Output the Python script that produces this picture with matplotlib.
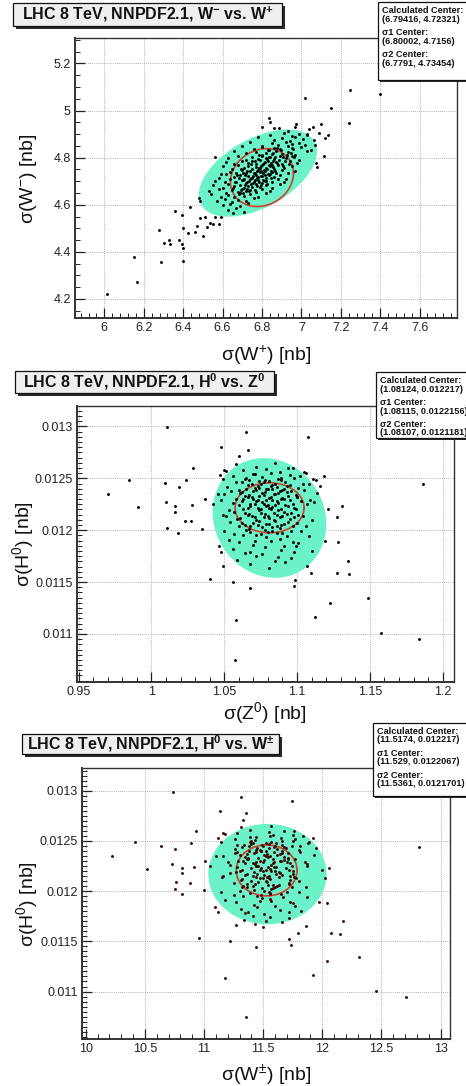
import numpy as np
import matplotlib
matplotlib.use("Agg")
from matplotlib import pyplot as plt
from matplotlib.patches import Rectangle
from matplotlib.ticker import MultipleLocator, FuncFormatter

plt.rcParams['font.family'] = ['Liberation Sans', 'DejaVu Sans']
plt.rcParams['mathtext.fontset'] = 'custom'
plt.rcParams['mathtext.rm'] = 'Liberation Sans'
plt.rcParams['mathtext.it'] = 'Liberation Sans:italic'
plt.rcParams['mathtext.bf'] = 'Liberation Sans:bold'

# ---------------------------------------------------------------------------
# Replica cross sections, LHC 8 TeV, NNPDF2.1
# ---------------------------------------------------------------------------
# (sigma(W+), sigma(W-)) per replica, dense core of the distribution
w_core = [
    (6.86, 4.924), (6.93, 4.913), (6.97, 4.929),
    (6.84, 4.898), (6.91, 4.906), (6.95, 4.891), (6.99, 4.901), (7.03, 4.895),
    (6.78, 4.888), (6.86, 4.877), (6.90, 4.884), (6.94, 4.873), (6.97, 4.889), (7.01, 4.878),
    (6.74, 4.866), (6.80, 4.851), (6.85, 4.861), (6.88, 4.855), (6.92, 4.868), (6.95, 4.857),
    (6.99, 4.864), (7.02, 4.853),
    (6.70, 4.849), (6.76, 4.838), (6.80, 4.846), (6.83, 4.831), (6.86, 4.841), (6.89, 4.835),
    (6.93, 4.848), (6.96, 4.837), (7.00, 4.844), (7.05, 4.833),
    (6.66, 4.829), (6.72, 4.818), (6.77, 4.826), (6.80, 4.811), (6.82, 4.821), (6.85, 4.815),
    (6.87, 4.828), (6.90, 4.817), (6.93, 4.824), (6.97, 4.813), (7.03, 4.829),
    (6.63, 4.798), (6.68, 4.806), (6.72, 4.791), (6.75, 4.801), (6.78, 4.795), (6.80, 4.808),
    (6.82, 4.797), (6.84, 4.804), (6.86, 4.793), (6.89, 4.809), (6.92, 4.798), (6.95, 4.806),
    (6.99, 4.791),
    (6.62, 4.781), (6.66, 4.775), (6.70, 4.788), (6.73, 4.777), (6.75, 4.784), (6.77, 4.773),
    (6.79, 4.789), (6.81, 4.778), (6.83, 4.786), (6.85, 4.771), (6.87, 4.781), (6.90, 4.775),
    (6.94, 4.788), (6.98, 4.777),
    (6.60, 4.764), (6.65, 4.753), (6.68, 4.769), (6.71, 4.758), (6.73, 4.766), (6.75, 4.751),
    (6.77, 4.761), (6.79, 4.755), (6.80, 4.768), (6.82, 4.757), (6.84, 4.764), (6.86, 4.753),
    (6.88, 4.769), (6.91, 4.758), (6.95, 4.766),
    (6.59, 4.731), (6.64, 4.741), (6.67, 4.735), (6.70, 4.748), (6.72, 4.737), (6.74, 4.744),
    (6.76, 4.733), (6.78, 4.749), (6.79, 4.738), (6.81, 4.746), (6.83, 4.731), (6.85, 4.741),
    (6.87, 4.735), (6.90, 4.748), (6.93, 4.737), (6.97, 4.744),
    (6.58, 4.713), (6.62, 4.729), (6.66, 4.718), (6.69, 4.726), (6.71, 4.711), (6.73, 4.721),
    (6.75, 4.715), (6.77, 4.728), (6.78, 4.717), (6.80, 4.724), (6.82, 4.713), (6.84, 4.729),
    (6.86, 4.718), (6.89, 4.726), (6.92, 4.711),
    (6.56, 4.701), (6.61, 4.695), (6.64, 4.708), (6.67, 4.697), (6.70, 4.704), (6.72, 4.693),
    (6.74, 4.709), (6.76, 4.698), (6.78, 4.706), (6.80, 4.691), (6.82, 4.701), (6.85, 4.695),
    (6.88, 4.708), (6.91, 4.697),
    (6.55, 4.684), (6.60, 4.673), (6.63, 4.689), (6.66, 4.678), (6.69, 4.686), (6.71, 4.671),
    (6.73, 4.681), (6.75, 4.675), (6.77, 4.688), (6.79, 4.677), (6.82, 4.684), (6.85, 4.673),
    (6.89, 4.689),
    (6.53, 4.658), (6.58, 4.666), (6.62, 4.651), (6.65, 4.661), (6.68, 4.655), (6.70, 4.668),
    (6.72, 4.657), (6.74, 4.664), (6.77, 4.653), (6.80, 4.669), (6.84, 4.658),
    (6.54, 4.646), (6.59, 4.631), (6.63, 4.641), (6.66, 4.635), (6.69, 4.648), (6.71, 4.637),
    (6.74, 4.644), (6.78, 4.633), (6.82, 4.649),
    (6.57, 4.618), (6.61, 4.626), (6.65, 4.611), (6.68, 4.621), (6.72, 4.615), (6.76, 4.628),
    (6.60, 4.597), (6.64, 4.604), (6.69, 4.593), (6.73, 4.609),
    (6.63, 4.578), (6.67, 4.586), (6.71, 4.571),
    # innermost, most crowded region
    (6.695, 4.662), (6.715, 4.683), (6.735, 4.702), (6.755, 4.722), (6.775, 4.742),
    (6.795, 4.763), (6.815, 4.782), (6.835, 4.801), (6.855, 4.822), (6.875, 4.842),
    (6.705, 4.705), (6.725, 4.745), (6.745, 4.688), (6.765, 4.707), (6.785, 4.696),
    (6.805, 4.735), (6.825, 4.752), (6.845, 4.776), (6.865, 4.745), (6.885, 4.792),
    (6.685, 4.712), (6.705, 4.733), (6.725, 4.668), (6.745, 4.772), (6.765, 4.788),
    (6.785, 4.812), (6.805, 4.705), (6.825, 4.688), (6.845, 4.712), (6.865, 4.803),
    (6.695, 4.752), (6.715, 4.725), (6.735, 4.657), (6.755, 4.692), (6.775, 4.678),
    (6.795, 4.722), (6.815, 4.742), (6.835, 4.725), (6.855, 4.762), (6.875, 4.778),
    (6.905, 4.805), (6.915, 4.785), (6.925, 4.812), (6.895, 4.832), (6.905, 4.765),
    (6.665, 4.695), (6.675, 4.728), (6.655, 4.672), (6.685, 4.645), (6.705, 4.652),
    (6.765, 4.735), (6.775, 4.715), (6.785, 4.755), (6.795, 4.745), (6.805, 4.772),
    (6.815, 4.726), (6.825, 4.795), (6.835, 4.768), (6.845, 4.742), (6.855, 4.787),
    (6.765, 4.662), (6.745, 4.712), (6.725, 4.695), (6.795, 4.682), (6.815, 4.702),
    (6.835, 4.832), (6.945, 4.822), (6.955, 4.842), (6.935, 4.772), (6.965, 4.802),
]

# (sigma(W+), sigma(W-)) for the replicas out in the tails
w_tail = [
    (6.012, 4.222), (6.167, 4.273), (6.152, 4.377), (6.287, 4.358), (6.277, 4.494),
    (6.303, 4.438), (6.328, 4.452), (6.335, 4.435), (6.380, 4.449), (6.392, 4.435),
    (6.397, 4.417), (6.397, 4.360), (6.397, 4.500), (6.395, 4.555), (6.358, 4.572),
    (6.426, 4.480), (6.460, 4.483), (6.436, 4.590), (6.485, 4.544), (6.471, 4.511),
    (6.499, 4.469), (6.482, 4.627), (6.487, 4.618), (6.510, 4.548), (6.519, 4.506),
    (6.536, 4.523), (6.550, 4.520), (6.561, 4.550), (6.580, 4.520), (6.590, 4.548),
    (6.563, 4.802), (6.654, 4.565),
    (6.836, 4.967), (7.017, 5.054), (7.152, 5.011), (7.245, 5.086), (7.398, 5.069),
    (7.558, 5.171), (7.240, 4.948), (7.102, 4.945), (7.059, 4.931), (7.040, 4.920),
    (7.135, 4.896), (7.119, 4.882), (7.063, 4.875), (7.068, 4.854), (7.114, 4.807),
    (7.076, 4.776), (7.078, 4.760), (6.840, 4.952), (6.887, 4.924), (6.798, 4.931),
    (6.975, 4.942), (7.090, 4.905), (7.030, 4.900),
]

# (sigma(Z0), sigma(W+-), sigma(H0)) per replica, dense core
zh_core = [
    (1.058, 11.31, 0.012640), (1.072, 11.39, 0.012610), (1.085, 11.57, 0.012650), (1.097, 11.76, 0.012600),
    (1.051, 11.18, 0.012570), (1.063, 11.28, 0.012580), (1.071, 11.44, 0.012540), (1.079, 11.55, 0.012590),
    (1.088, 11.58, 0.012560), (1.094, 11.68, 0.012600), (1.106, 11.84, 0.012550),
    (1.047, 11.12, 0.012530), (1.056, 11.26, 0.012520), (1.064, 11.39, 0.012490), (1.070, 11.39, 0.012540),
    (1.076, 11.43, 0.012510), (1.082, 11.56, 0.012550), (1.089, 11.66, 0.012500), (1.095, 11.65, 0.012530),
    (1.102, 11.77, 0.012520), (1.111, 11.89, 0.012490),
    (1.049, 11.14, 0.012490), (1.058, 11.28, 0.012460), (1.065, 11.40, 0.012500), (1.069, 11.38, 0.012450),
    (1.074, 11.40, 0.012470), (1.078, 11.52, 0.012480), (1.083, 11.59, 0.012440), (1.087, 11.57, 0.012490),
    (1.092, 11.66, 0.012460), (1.098, 11.75, 0.012500), (1.104, 11.74, 0.012450), (1.113, 11.88, 0.012480),
    (1.052, 11.26, 0.012420), (1.060, 11.28, 0.012390), (1.066, 11.32, 0.012440), (1.071, 11.44, 0.012410),
    (1.075, 11.50, 0.012450), (1.079, 11.48, 0.012400), (1.082, 11.55, 0.012430), (1.086, 11.62, 0.012420),
    (1.090, 11.59, 0.012390), (1.095, 11.68, 0.012440), (1.101, 11.80, 0.012410), (1.108, 11.81, 0.012450),
    (1.046, 11.10, 0.012350), (1.055, 11.26, 0.012380), (1.062, 11.36, 0.012370), (1.067, 11.35, 0.012340),
    (1.072, 11.44, 0.012390), (1.076, 11.51, 0.012360), (1.080, 11.48, 0.012400), (1.084, 11.56, 0.012350),
    (1.088, 11.66, 0.012380), (1.093, 11.64, 0.012370), (1.099, 11.68, 0.012340), (1.105, 11.81, 0.012390),
    (1.114, 11.93, 0.012360),
    (1.050, 11.16, 0.012350), (1.058, 11.29, 0.012300), (1.064, 11.37, 0.012330), (1.069, 11.36, 0.012320),
    (1.073, 11.44, 0.012290), (1.077, 11.54, 0.012340), (1.081, 11.51, 0.012310), (1.085, 11.52, 0.012350),
    (1.089, 11.64, 0.012300), (1.094, 11.71, 0.012330), (1.100, 11.71, 0.012320), (1.109, 11.85, 0.012290),
    (1.048, 11.20, 0.012290), (1.056, 11.22, 0.012260), (1.063, 11.33, 0.012300), (1.068, 11.44, 0.012250),
    (1.072, 11.41, 0.012280), (1.076, 11.43, 0.012270), (1.080, 11.54, 0.012240), (1.083, 11.59, 0.012290),
    (1.087, 11.57, 0.012260), (1.091, 11.65, 0.012300), (1.097, 11.74, 0.012250), (1.103, 11.73, 0.012280),
    (1.112, 11.87, 0.012270),
    (1.053, 11.27, 0.012190), (1.060, 11.28, 0.012240), (1.066, 11.32, 0.012210), (1.071, 11.44, 0.012250),
    (1.075, 11.50, 0.012200), (1.079, 11.48, 0.012230), (1.083, 11.56, 0.012220), (1.087, 11.63, 0.012190),
    (1.092, 11.61, 0.012240), (1.098, 11.72, 0.012210), (1.107, 11.87, 0.012250),
    (1.049, 11.16, 0.012150), (1.057, 11.22, 0.012180), (1.064, 11.36, 0.012170), (1.069, 11.44, 0.012140),
    (1.074, 11.42, 0.012190), (1.078, 11.51, 0.012160), (1.082, 11.57, 0.012200), (1.086, 11.55, 0.012150),
    (1.091, 11.64, 0.012180), (1.096, 11.75, 0.012170), (1.104, 11.76, 0.012140),
    (1.051, 11.15, 0.012140), (1.059, 11.31, 0.012110), (1.066, 11.41, 0.012150), (1.072, 11.40, 0.012100),
    (1.077, 11.50, 0.012130), (1.081, 11.56, 0.012120), (1.085, 11.53, 0.012090), (1.090, 11.63, 0.012140),
    (1.095, 11.73, 0.012110), (1.101, 11.73, 0.012150), (1.110, 11.80, 0.012100),
    (1.054, 11.25, 0.012080), (1.062, 11.36, 0.012070), (1.068, 11.36, 0.012040), (1.074, 11.46, 0.012090),
    (1.079, 11.54, 0.012060), (1.084, 11.52, 0.012100), (1.089, 11.62, 0.012050), (1.094, 11.72, 0.012080),
    (1.100, 11.72, 0.012070),
    (1.050, 11.14, 0.011990), (1.060, 11.32, 0.012040), (1.067, 11.42, 0.012010), (1.073, 11.41, 0.012050),
    (1.078, 11.51, 0.012000), (1.083, 11.58, 0.012030), (1.088, 11.57, 0.012020), (1.096, 11.70, 0.011990),
    (1.106, 11.86, 0.012040),
    (1.057, 11.25, 0.011960), (1.065, 11.30, 0.012000), (1.072, 11.45, 0.011950), (1.080, 11.56, 0.011980),
    (1.086, 11.56, 0.011970), (1.093, 11.67, 0.011940), (1.103, 11.80, 0.011990),
    (1.053, 11.18, 0.011910), (1.063, 11.33, 0.011950), (1.071, 11.47, 0.011900), (1.079, 11.49, 0.011930),
    (1.088, 11.56, 0.011920), (1.097, 11.73, 0.011890), (1.108, 11.87, 0.011940),
    (1.060, 11.27, 0.011890), (1.070, 11.42, 0.011860), (1.082, 11.57, 0.011900), (1.091, 11.60, 0.011850),
    (1.101, 11.75, 0.011880),
    (1.056, 11.31, 0.011820), (1.068, 11.37, 0.011790), (1.078, 11.45, 0.011840), (1.089, 11.64, 0.011810),
    (1.099, 11.77, 0.011850), (1.110, 11.82, 0.011800),
    (1.064, 11.35, 0.011780), (1.076, 11.51, 0.011770), (1.087, 11.56, 0.011740), (1.098, 11.72, 0.011790),
    (1.059, 11.34, 0.011710), (1.072, 11.41, 0.011750), (1.085, 11.52, 0.011700), (1.096, 11.72, 0.011730),
    (1.068, 11.43, 0.011670), (1.081, 11.50, 0.011640), (1.092, 11.66, 0.011690),
    # innermost, most crowded region
    (1.062, 11.34, 0.012460), (1.067, 11.41, 0.012480), (1.073, 11.45, 0.012430), (1.077, 11.49, 0.012460),
    (1.081, 11.55, 0.012470), (1.085, 11.60, 0.012450), (1.089, 11.61, 0.012480), (1.093, 11.69, 0.012430),
    (1.061, 11.30, 0.012360), (1.065, 11.38, 0.012400), (1.070, 11.42, 0.012380), (1.074, 11.47, 0.012410),
    (1.078, 11.53, 0.012370), (1.083, 11.52, 0.012400), (1.087, 11.62, 0.012360), (1.091, 11.66, 0.012400),
    (1.096, 11.71, 0.012380),
    (1.062, 11.35, 0.012280), (1.066, 11.37, 0.012320), (1.070, 11.47, 0.012300), (1.074, 11.46, 0.012330),
    (1.079, 11.50, 0.012290), (1.082, 11.58, 0.012320), (1.086, 11.58, 0.012280), (1.090, 11.68, 0.012310),
    (1.095, 11.70, 0.012290), (1.100, 11.77, 0.012320),
    (1.063, 11.30, 0.012200), (1.068, 11.40, 0.012230), (1.073, 11.47, 0.012210), (1.077, 11.46, 0.012250),
    (1.081, 11.52, 0.012210), (1.085, 11.59, 0.012240), (1.089, 11.60, 0.012200), (1.094, 11.69, 0.012230),
    (1.099, 11.75, 0.012200),
    (1.061, 11.32, 0.012120), (1.067, 11.35, 0.012160), (1.071, 11.47, 0.012130), (1.075, 11.45, 0.012170),
    (1.080, 11.53, 0.012140), (1.084, 11.61, 0.012170), (1.088, 11.55, 0.012130), (1.093, 11.66, 0.012160),
    (1.098, 11.78, 0.012130),
    (1.064, 11.33, 0.012050), (1.070, 11.43, 0.012070), (1.076, 11.49, 0.012030), (1.081, 11.58, 0.012060),
    (1.086, 11.60, 0.012040), (1.091, 11.63, 0.012060), (1.097, 11.74, 0.012040),
    (1.068, 11.39, 0.011980), (1.075, 11.48, 0.011960), (1.083, 11.55, 0.011990), (1.090, 11.65, 0.011970),
]

# (sigma(Z0), sigma(W+-), sigma(H0)) for the replicas out in the tails
zh_tail = [
    (0.9703, 10.219, 0.012353), (0.9844, 10.416, 0.012485), (0.9909, 10.515, 0.012222),
    (1.0091, 10.636, 0.012453), (1.0101, 10.727, 0.012268), (1.0108, 10.755, 0.012023),
    (1.0160, 10.811, 0.012232), (1.0160, 10.811, 0.012180), (1.0183, 10.811, 0.011971),
    (1.0192, 10.755, 0.012417), (1.0229, 10.763, 0.012092), (1.0240, 10.887, 0.012481),
    (1.0274, 10.882, 0.012085), (1.0279, 10.918, 0.012240), (1.0348, 11.000, 0.012007),
    (1.0370, 11.008, 0.012301), (1.0420, 11.050, 0.012252), (1.0400, 10.955, 0.011532),
    (1.0466, 11.093, 0.011843), (1.0480, 11.121, 0.011788), (1.0492, 11.271, 0.011658),
    (1.0560, 11.220, 0.011502), (1.0583, 11.178, 0.011134), (1.0571, 11.355, 0.010751),
    (1.0674, 11.440, 0.011443), (1.0983, 11.717, 0.011522), (1.0976, 11.734, 0.011466),
    (1.1068, 11.863, 0.011655), (1.1095, 11.798, 0.011588), (1.1125, 11.925, 0.011161),
    (1.1228, 12.041, 0.011303), (1.1273, 12.074, 0.011587), (1.1278, 12.043, 0.011882),
    (1.1273, 12.024, 0.012127), (1.1308, 12.060, 0.012235), (1.1349, 12.179, 0.011704),
    (1.1358, 12.150, 0.011577), (1.1490, 12.314, 0.011344), (1.1578, 12.453, 0.011006),
    (1.1838, 12.709, 0.010947), (1.1864, 12.821, 0.012443), (1.0108, 10.740, 0.012992),
    (1.0650, 11.310, 0.012943), (1.0478, 11.135, 0.012800), (1.0660, 11.355, 0.012775),
    (1.1072, 11.742, 0.012901), (1.0283, 10.930, 0.012603), (1.0500, 11.158, 0.012584),
    (1.1187, 11.920, 0.012526), (1.1045, 11.755, 0.012557), (1.1216, 12.000, 0.012207),
    (1.1160, 11.950, 0.012425), (1.1193, 11.973, 0.011893), (1.0600, 11.327, 0.012712),
]

# Centres quoted for each pair: (calculated, sigma1, sigma2)
centers_w = [(6.79416, 4.72321), (6.80002, 4.7156), (6.7791, 4.73454)]
centers_hz = [(1.08124, 0.012217), (1.08115, 0.0122156), (1.08107, 0.0121181)]
centers_hw = [(11.5174, 0.012217), (11.529, 0.0122067), (11.5361, 0.0121701)]

# Contour half-extents (x, y) and correlation for the 1 sigma / 2 sigma regions
sig1_w, sig2_w = (0.16, 0.123, 0.15), (0.30, 0.185, 0.5)
sig1_hz, sig2_hz = (0.0237, 0.000241, 0.0), (0.039, 0.000577, -0.1)
sig1_hw, sig2_hw = (0.257, 0.000254, 0.0), (0.50, 0.0005, 0.0)

titles = [r"LHC 8 TeV, NNPDF2.1, W$^{\mathbf{-}}$ vs. W$^{\mathbf{+}}$",
          r"LHC 8 TeV, NNPDF2.1, H$^{\mathbf{0}}$ vs. Z$^{\mathbf{0}}$",
          r"LHC 8 TeV, NNPDF2.1, H$^{\mathbf{0}}$ vs. W$^{\mathbf{\pm}}$"]
xlabels = [r"σ(W$^{+}$) [nb]", r"σ(Z$^{0}$) [nb]", r"σ(W$^{\pm}$) [nb]"]
ylabels = [r"σ(W$^{-}$) [nb]", r"σ(H$^{0}$) [nb]", r"σ(H$^{0}$) [nb]"]

W_PX, H_PX = 466, 1086
CYAN = '#6cf2c8'
RED = '#c8412c'


def fig_rect(x0, y0, x1, y1):
    # pixel box (top-left origin) -> figure fraction rect
    return [x0 / W_PX, 1 - y1 / H_PX, (x1 - x0) / W_PX, (y1 - y0) / H_PX]


def ellipse(center, shape, n=240):
    hx, hy, rho = shape
    t = np.linspace(0, 2 * np.pi, n)
    x = center[0] + hx * np.cos(t)
    y = center[1] + hy * (rho * np.cos(t) + np.sqrt(1 - rho ** 2) * np.sin(t))
    return x, y


def pave(fig, x0, y0, x1, y1, fc, shadow=3):
    # ROOT-style pave with a drop shadow
    sx, sy, sw, sh = fig_rect(x0 + shadow, y0 + shadow, x1 + shadow, y1 + shadow)
    fig.patches.append(Rectangle((sx, sy), sw, sh, transform=fig.transFigure,
                                 facecolor='#2a2a2a', edgecolor='none', zorder=5))
    bx, by, bw, bh = fig_rect(x0, y0, x1, y1)
    fig.patches.append(Rectangle((bx, by), bw, bh, transform=fig.transFigure,
                                 facecolor=fc, edgecolor='#111111', lw=0.9, zorder=6))
    return bx, by, bw, bh


def draw_panel(fig, rect, xs, ys, color, centers, sig1, sig2, xlim, ylim,
               xmaj, xmin, ymaj, ymin, xlabel, ylabel, ylab_x, xlab_y):
    ax = fig.add_axes(fig_rect(*rect))
    ax.set_xlim(*xlim)
    ax.set_ylim(*ylim)
    ax.set_axisbelow(True)
    ax.grid(True, which='major', color='#9a9a9a', ls=(0, (1, 1.5)), lw=0.6)

    cx, cy = ellipse(centers[2], sig2)
    ax.fill(cx, cy, color=CYAN, lw=0, zorder=1)
    rx, ry = ellipse(centers[1], sig1)
    ax.plot(rx, ry, color=RED, lw=1.2, zorder=2)
    ax.plot(xs, ys, ls='none', marker='o', ms=2.1, mew=0, color=color, zorder=3)

    ax.xaxis.set_major_locator(MultipleLocator(xmaj))
    ax.xaxis.set_minor_locator(MultipleLocator(xmin))
    ax.yaxis.set_major_locator(MultipleLocator(ymaj))
    ax.yaxis.set_minor_locator(MultipleLocator(ymin))
    fmt = FuncFormatter(lambda v, p: "%g" % round(v, 8))
    ax.xaxis.set_major_formatter(fmt)
    ax.yaxis.set_major_formatter(fmt)
    ax.tick_params(which='major', direction='in', length=7, width=0.9, colors='#222222',
                   labelsize=9, pad=3)
    ax.tick_params(which='minor', direction='in', length=3.5, width=0.7, colors='#222222')
    ax.tick_params(top=False, right=False, which='both')
    for s in ax.spines.values():
        s.set_color('#333333')
        s.set_linewidth(1.0)
    ax.spines['left'].set_linewidth(1.4)
    ax.spines['bottom'].set_linewidth(1.4)

    ax.text(0.5, xlab_y, xlabel, transform=ax.transAxes, ha='center', va='center',
            fontsize=14, color='#111111')
    ax.text(ylab_x, 0.5, ylabel, transform=ax.transAxes, ha='center', va='center',
            rotation=90, fontsize=14, color='#111111')
    return ax


def stats_box(fig, x0, y0, x1, y1, centers):
    pave(fig, x0, y0, x1, y1, 'white', shadow=2)
    names = ["Calculated Center:", "σ1 Center:", "σ2 Center:"]
    offsets = [8.5, 30.5, 52.5]
    for name, (vx, vy), off in zip(names, centers, offsets):
        for k, line in enumerate([name, "(%g, %g)" % (vx, vy)]):
            ty = 1 - (y0 + off + 8.5 * k) / H_PX
            fig.text((x0 + 4) / W_PX, ty, line, fontsize=6.6, fontweight='bold',
                     ha='left', va='center', color='#111111', zorder=7)


def title_box(fig, x0, y0, x1, y1, text):
    bx, by, bw, bh = pave(fig, x0, y0, x1, y1, '#efefef', shadow=3)
    fig.text(bx + bw / 2, by + bh / 2, text, fontsize=11.5, fontweight='bold',
             ha='center', va='center', color='#111111', zorder=7)


fig = plt.figure(figsize=(W_PX / 100, H_PX / 100), dpi=100)
fig.patch.set_facecolor('white')

w_all = np.array(w_core + w_tail)
zh_all = np.array(zh_core + zh_tail)
wplus, wminus = w_all[:, 0], w_all[:, 1]
z0, wpm, h0 = zh_all[:, 0], zh_all[:, 1], zh_all[:, 2]

draw_panel(fig, (75, 38.3, 457, 318.3), wplus, wminus, 'black', centers_w,
           sig1_w, sig2_w, (5.851, 7.79), (4.118, 5.307), 0.2, 0.04, 0.2, 0.05,
           xlabels[0], ylabels[0], -0.123, -0.131)
draw_panel(fig, (76.7, 405.7, 454, 682.3), z0, h0, 'black', centers_hz,
           sig1_hz, sig2_hz, (0.9487, 1.2078), (0.010534, 0.0132), 0.05, 0.01,
           0.0005, 0.00005, xlabels[1], ylabels[1], -0.142, -0.111)
draw_panel(fig, (82, 768.3, 450, 1039), wpm, h0, '#3a0606', centers_hw,
           sig1_hw, sig2_hw, (9.968, 13.08), (0.010527, 0.013224), 0.5, 0.1,
           0.0005, 0.00005, xlabels[2], ylabels[2], -0.150, -0.133)

title_box(fig, 13, 3, 282, 26, titles[0])
title_box(fig, 15, 371, 274, 393, titles[1])
title_box(fig, 22, 734, 279, 754, titles[2])

stats_box(fig, 378, 2, 470, 80, centers_w)
stats_box(fig, 376, 372, 470, 438, centers_hz)
stats_box(fig, 373, 723, 470, 796, centers_hw)

fig.savefig("out.png", dpi=100)
